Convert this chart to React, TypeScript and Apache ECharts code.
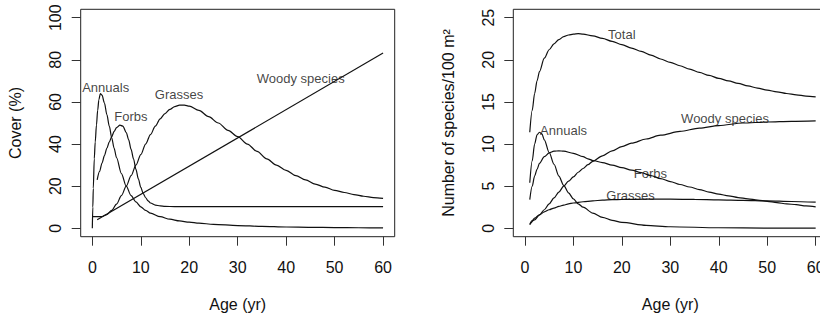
import React, { useEffect, useRef } from "react";
import * as echarts from "echarts";

// ---------- Data ----------
const xTicks = [0, 10, 20, 30, 40, 50, 60];
const coverTicks = [0, 20, 40, 60, 80, 100];
const speciesTicks = [0, 5, 10, 15, 20, 25];

// Left panel: Cover (%)
const coverAnnuals: [number, number][] = [
  [0, 0], [0.1, 10], [0.2, 19], [0.4, 33], [0.6, 41], [0.85, 49], [1.1, 56], [1.35, 61], [1.65, 64],
  [2, 63.2], [2.5, 59.5], [3, 54], [3.5, 48.5], [4, 43], [4.5, 38], [5, 33.5], [6, 26], [7, 20],
  [8, 15.5], [9, 12.5], [10, 10.2], [11, 8.5], [12, 7.2], [14, 5.5], [16, 4.3], [18, 3.5], [20, 2.9],
  [22, 2.4], [25, 1.9], [30, 1.3], [35, 0.9], [40, 0.6], [45, 0.45], [50, 0.35], [55, 0.25], [60, 0.2],
];
const coverForbs: [number, number][] = [
  [1, 23], [1.5, 27], [2, 31], [2.5, 34.5], [3, 38], [3.5, 41], [4, 43.5], [4.5, 46], [5, 47.8],
  [5.7, 49], [6.3, 48.5], [7, 45.5], [7.5, 42], [8, 37.5], [8.5, 33], [9, 28], [9.5, 23.5], [10, 19.5],
  [10.5, 16.5], [11, 14.5], [11.5, 13], [12, 12], [13, 11], [14, 10.6], [15, 10.4], [17, 10.3],
  [20, 10.3], [30, 10.3], [40, 10.3], [50, 10.3], [60, 10.3],
];
const coverGrasses: [number, number][] = [
  [0, 5.5], [1, 5.5], [2, 5.6], [3, 6.5], [4, 8.5], [5, 11.5], [6, 15.5], [7, 20], [8, 25], [9, 30],
  [10, 35], [11, 40], [12, 44.5], [13, 48.5], [14, 52], [15, 54.5], [16, 56.5], [17, 57.8], [18, 58.5],
  [19, 58.5], [20, 58], [22, 56], [24, 53], [26, 50], [28, 46.5], [30, 43.5], [32, 40], [34, 36.5],
  [36, 33], [38, 30], [40, 27.5], [42, 25], [44, 23], [46, 21], [48, 19.5], [50, 18], [52, 17],
  [54, 16], [56, 15.2], [58, 14.6], [60, 14.2],
];
const coverWoody: [number, number][] = [
  [1, 4], [60, 83.2],
];
const coverLabels = [
  { name: "Annuals", value: [2.75, 66.8] },
  { name: "Forbs", value: [7.95, 52.9] },
  { name: "Grasses", value: [17.9, 63.5] },
  { name: "Woody species", value: [43, 71.1] },
];

// Right panel: Number of species / 100 m2
const spTotal: [number, number][] = [
  [1, 11.4], [1.5, 14], [2, 16], [2.5, 17.5], [3, 18.6], [4, 20.2], [5, 21.2], [6, 21.9], [7, 22.4],
  [8, 22.75], [9, 22.95], [10, 23.05], [11, 23.1], [12, 23.05], [14, 22.85], [16, 22.55], [18, 22.2],
  [20, 21.8], [22, 21.4], [24, 21], [26, 20.55], [28, 20.1], [30, 19.7], [32, 19.3], [34, 18.9],
  [36, 18.5], [38, 18.15], [40, 17.8], [42, 17.5], [44, 17.2], [46, 16.9], [48, 16.65], [50, 16.4],
  [52, 16.2], [54, 16], [56, 15.85], [58, 15.7], [60, 15.6],
];
const spAnnuals: [number, number][] = [
  [1, 5.4], [1.5, 8], [2, 10], [2.5, 11.1], [3, 11.4], [3.5, 11.2], [4, 10.5], [5, 9], [6, 7.6],
  [7, 6.2], [8, 5.1], [9, 4.2], [10, 3.5], [11, 2.9], [12, 2.5], [14, 1.8], [16, 1.3], [18, 0.95],
  [20, 0.7], [25, 0.35], [30, 0.18], [40, 0.06], [50, 0.02], [60, 0.01],
];
const spForbs: [number, number][] = [
  [1, 3.4], [1.5, 5], [2, 6.2], [2.5, 7], [3, 7.7], [4, 8.5], [5, 8.95], [6, 9.15], [7, 9.2],
  [8, 9.15], [10, 8.9], [12, 8.5], [13, 8.25], [14, 8.05], [16, 7.8], [18, 7.5], [20, 7.2],
  [22, 6.9], [24, 6.6], [26, 6.25], [28, 5.9], [30, 5.55], [32, 5.2], [34, 4.9], [36, 4.6],
  [38, 4.3], [40, 4.05], [42, 3.85], [44, 3.65], [46, 3.5], [48, 3.35], [50, 3.2], [52, 3.05],
  [54, 2.9], [56, 2.8], [58, 2.65], [60, 2.55],
];
const spWoody: [number, number][] = [
  [1, 0.45], [2, 1.0], [3, 1.6], [4, 2.2], [5, 2.9], [6, 3.6], [7, 4.3], [8, 5.0], [9, 5.6],
  [10, 6.1], [11, 6.65], [12, 7.1], [13, 7.55], [14, 7.95], [16, 8.6], [18, 9.2], [20, 9.7],
  [22, 10.1], [25, 10.6], [28, 11.05], [32, 11.5], [36, 11.9], [40, 12.2], [45, 12.5], [50, 12.62],
  [55, 12.7], [60, 12.75],
];
const spGrasses: [number, number][] = [
  [1, 0.45], [1.5, 0.9], [2, 1.2], [3, 1.6], [4, 1.95], [5, 2.2], [6, 2.4], [7, 2.6], [8, 2.75],
  [9, 2.9], [10, 3.0], [12, 3.15], [14, 3.25], [16, 3.35], [18, 3.4], [20, 3.42], [25, 3.45],
  [30, 3.45], [35, 3.42], [40, 3.38], [45, 3.32], [50, 3.25], [55, 3.18], [60, 3.1],
];
const spLabels = [
  { name: "Total", value: [20, 23] },
  { name: "Woody species", value: [41.3, 13] },
  { name: "Annuals", value: [7.97, 11.65] },
  { name: "Forbs", value: [25.9, 6.5] },
  { name: "Grasses", value: [21.8, 3.9] },
];

const FONT = "'Liberation Sans', Arial, Helvetica, sans-serif";
const INK = "#111";

function xAxisFor(gridIndex: number) {
  return {
    gridIndex,
    type: "value",
    min: -2.4,
    max: 62.4,
    splitLine: { show: false },
    axisLine: { show: false, onZero: false },
    axisTick: { show: true, customValues: xTicks, length: 9, lineStyle: { color: "#333", width: 1 } },
    axisLabel: { customValues: xTicks, margin: 23, fontSize: 16, color: INK, fontFamily: FONT },
    name: "Age (yr)",
    nameLocation: "middle",
    nameGap: 60,
    nameTextStyle: { fontSize: 16, color: INK, fontFamily: FONT },
  };
}

function yAxisFor(gridIndex: number, min: number, max: number, ticks: number[], name: string) {
  return {
    gridIndex,
    type: "value",
    min,
    max,
    splitLine: { show: false },
    axisLine: { show: false, onZero: false },
    axisTick: { show: true, customValues: ticks, length: 9, lineStyle: { color: "#333", width: 1 } },
    axisLabel: { customValues: ticks, rotate: 90, margin: 17, fontSize: 16, color: INK, fontFamily: FONT },
    name,
    nameLocation: "middle",
    nameGap: 57,
    nameTextStyle: { fontSize: 16, color: INK, fontFamily: FONT },
  };
}

function lineSeries(data: [number, number][], idx: number, smooth: boolean | number = 0.3) {
  return {
    type: "line",
    xAxisIndex: idx,
    yAxisIndex: idx,
    data,
    showSymbol: false,
    symbol: "none",
    smooth,
    smoothMonotone: "x",
    lineStyle: { color: INK, width: 1.2 },
    silent: true,
  };
}

function labelSeries(data: { name: string; value: number[] }[], idx: number) {
  return {
    type: "scatter",
    xAxisIndex: idx,
    yAxisIndex: idx,
    data,
    symbolSize: 0,
    silent: true,
    label: {
      show: true,
      position: "inside",
      formatter: "{b}",
      fontSize: 13,
      color: INK,
      fontFamily: FONT,
    },
  };
}

export default function App() {
  const ref = useRef<HTMLDivElement>(null);
  useEffect(() => {
    if (!ref.current) return;
    const chart = echarts.init(ref.current, undefined, { renderer: "svg" });
    const gridBase = {
      top: 9.3,
      width: 314,
      height: 227.4,
      show: true,
      borderColor: "#222",
      borderWidth: 1,
      backgroundColor: "transparent",
      containLabel: false,
      outerBoundsMode: "none",
    };
    chart.setOption({
      animation: false,
      backgroundColor: "#fff",
      textStyle: { fontFamily: FONT },
      grid: [
        { ...gridBase, left: 80.7 },
        { ...gridBase, left: 513.3 },
      ],
      xAxis: [xAxisFor(0), xAxisFor(1)],
      yAxis: [
        yAxisFor(0, -4, 104, coverTicks, "Cover (%)"),
        yAxisFor(1, -1, 26, speciesTicks, "Number of species/100 m²"),
      ],
      series: [
        lineSeries(coverAnnuals, 0),
        lineSeries(coverForbs, 0),
        lineSeries(coverGrasses, 0),
        lineSeries(coverWoody, 0, false),
        labelSeries(coverLabels, 0),
        lineSeries(spTotal, 1),
        lineSeries(spAnnuals, 1),
        lineSeries(spForbs, 1),
        lineSeries(spWoody, 1),
        lineSeries(spGrasses, 1),
        labelSeries(spLabels, 1),
      ],
    });
    return () => chart.dispose();
  }, []);
  return (
    <div
      ref={ref}
      style={{ position: "absolute", left: 0, top: 0, width: 820, height: 320, background: "#fff" }}
    />
  );
}
